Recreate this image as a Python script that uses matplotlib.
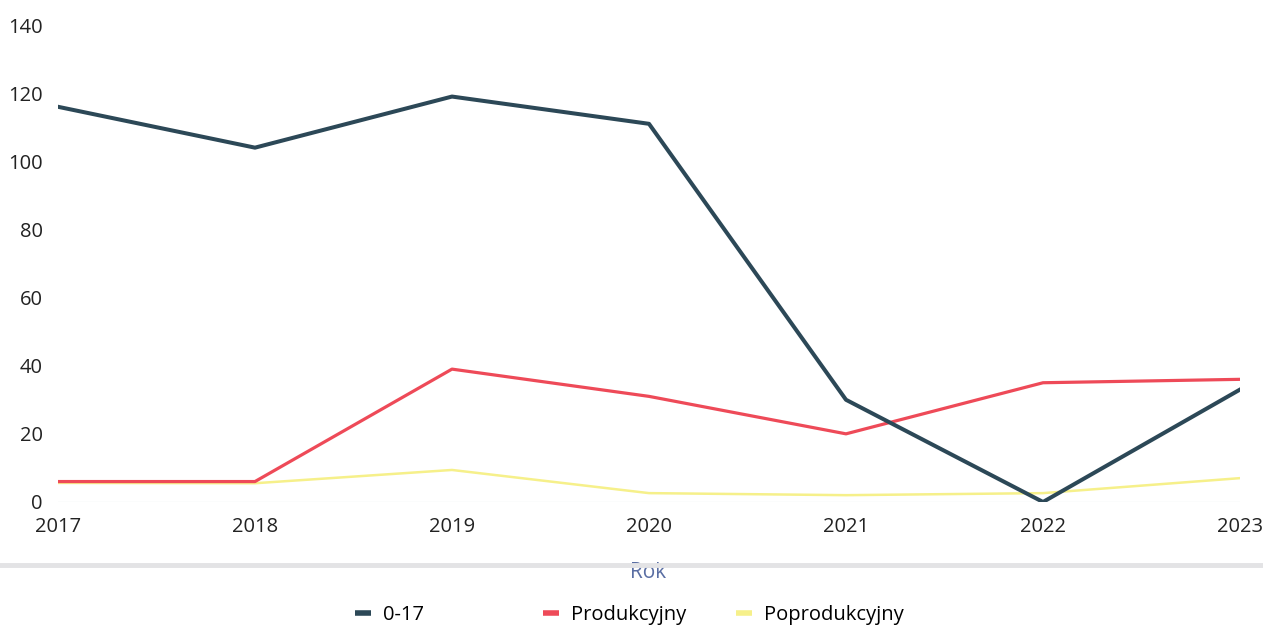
import matplotlib.pyplot as plt
from matplotlib.lines import Line2D

plt.rcParams['font.family'] = ['Open Sans', 'DejaVu Sans']

years = [2017, 2018, 2019, 2020, 2021, 2022, 2023]
kids = [116, 104, 119, 111, 30, 0, 33]          # 0-17
working = [6, 6, 39, 31, 20, 35, 36]            # Produkcyjny
retired = [5.6, 5.5, 9.4, 2.6, 2, 2.6, 7]       # Poprodukcyjny

c_kids = '#2c4857'
c_work = '#ee4a58'
c_ret = '#f6f08a'

fig = plt.figure(figsize=(12.63, 6.3), dpi=100)
ax = fig.add_axes([0.0459, 0.2032, 0.9359, 0.7571])

ax.plot(years, retired, color=c_ret, lw=1.8, zorder=2)
ax.plot(years, working, color=c_work, lw=2.3, zorder=3)
ax.plot(years, kids, color=c_kids, lw=2.9, zorder=4)

ax.set_xlim(2017, 2023)
ax.set_ylim(0, 140)
ax.set_yticks(range(0, 141, 20))
ax.set_xticks(years)
ax.axhline(0, color='#eef0f4', lw=1, zorder=1)
for s in ax.spines.values():
    s.set_visible(False)
ax.tick_params(length=0, labelsize=14.5, colors='#222222')
ax.tick_params(axis='y', pad=11)
ax.tick_params(axis='x', pad=11)

# axis title, partly hidden under the grey separator
fig.text(648 / 1263, 1 - 573 / 630, 'Rok', color='#5a6ea3', fontsize=15,
         ha='center', va='center')
fig.add_artist(Line2D([0, 1], [1 - 565 / 630] * 2, color='#e3e3e5', lw=3.5,
                      transform=fig.transFigure, zorder=10))

# legend entries placed one by one like the original
entries = [('0-17', c_kids, 355), ('Produkcyjny', c_work, 543),
           ('Poprodukcyjny', c_ret, 736)]
for name, col, xpix in entries:
    h = Line2D([], [], color=col, lw=4, solid_capstyle='butt')
    fig.legend([h], [name], loc='center left',
               bbox_to_anchor=(xpix / 1263, 1 - 615 / 630),
               frameon=False, fontsize=14.5, handlelength=0.8,
               handletextpad=0.6, borderaxespad=0, borderpad=0)

fig.savefig('out.png', dpi=100)
